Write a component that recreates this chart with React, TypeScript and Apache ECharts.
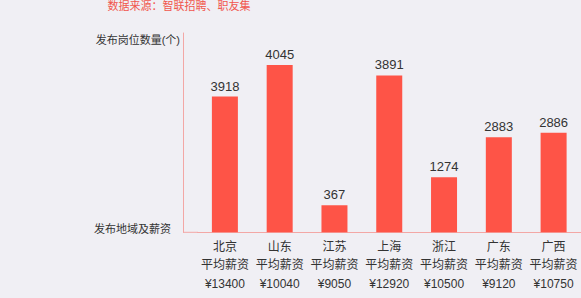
import React, { useEffect, useRef } from "react";
import * as echarts from "echarts";

const regions = ["北京", "山东", "江苏", "上海", "浙江", "广东", "广西"];
const salaries = ["¥13400", "¥10040", "¥9050", "¥12920", "¥10500", "¥9120", "¥10750"];
const postCounts = [3918, 4045, 367, 3891, 1274, 2883, 2886];
// bar heights as drawn in the picture (the artwork's bars are not proportional to the labels)
const barHeights = [3284, 4045, 654, 3793, 1332, 2301, 2410];

const FONT = 'Helvetica, Arial, "Liberation Sans", "Noto Sans CJK SC", sans-serif';

export default function App() {
  const ref = useRef<HTMLDivElement>(null);
  useEffect(() => {
    if (!ref.current) return;
    const chart = echarts.init(ref.current, null, { renderer: "svg" });
    chart.setOption({
      animation: false,
      backgroundColor: "#f0eff4",
      textStyle: { fontFamily: FONT },
      grid: { left: 197.5, right: -1.5, top: 33, bottom: 65.7, containLabel: false },
      xAxis: {
        type: "category",
        data: regions,
        axisLine: { lineStyle: { color: "#f3a7a5", width: 1 } },
        axisTick: { show: false },
        axisLabel: {
          interval: 0,
          color: "#333",
          fontSize: 12,
          lineHeight: 18.5,
          margin: 5,
          formatter: (v: string, i: number) => `${v}\n平均薪资\n${salaries[i]}`,
        },
      },
      yAxis: {
        type: "value",
        min: 0,
        max: 4820,
        offset: 14.5,
        axisLine: { show: true, lineStyle: { color: "#f3a7a5", width: 1 } },
        axisTick: { show: false },
        axisLabel: { show: false },
        splitLine: { show: false },
      },
      series: [
        {
          type: "bar",
          data: barHeights,
          barWidth: 26,
          itemStyle: { color: "#fe5447" },
          label: {
            show: true,
            position: "top",
            distance: 4,
            color: "#333",
            fontSize: 13,
            fontFamily: FONT,
            formatter: (p: any) => String(postCounts[p.dataIndex]),
          },
        },
      ],
      graphic: [
        {
          type: "line",
          shape: { x1: 183, y1: 232.3, x2: 198, y2: 232.3 },
          style: { stroke: "#f3a7a5", lineWidth: 1 },
        },
        {
          type: "text",
          x: 179,
          y: 6,
          style: {
            text: "数据来源：智联招聘、职友集",
            fill: "#f0564d",
            fontSize: 11,
            fontFamily: FONT,
            textAlign: "center",
            textVerticalAlign: "middle",
          },
        },
        {
          type: "text",
          x: 180,
          y: 40,
          style: {
            text: "发布岗位数量(个)",
            fill: "#333",
            fontSize: 11,
            fontFamily: FONT,
            textAlign: "right",
            textVerticalAlign: "middle",
          },
        },
        {
          type: "text",
          x: 171,
          y: 229,
          style: {
            text: "发布地域及薪资",
            fill: "#333",
            fontSize: 11,
            fontFamily: FONT,
            textAlign: "right",
            textVerticalAlign: "middle",
          },
        },
      ],
    });
    return () => chart.dispose();
  }, []);
  return (
    <div
      ref={ref}
      style={{ position: "absolute", left: 0, top: 0, width: 581, height: 298 }}
    />
  );
}
